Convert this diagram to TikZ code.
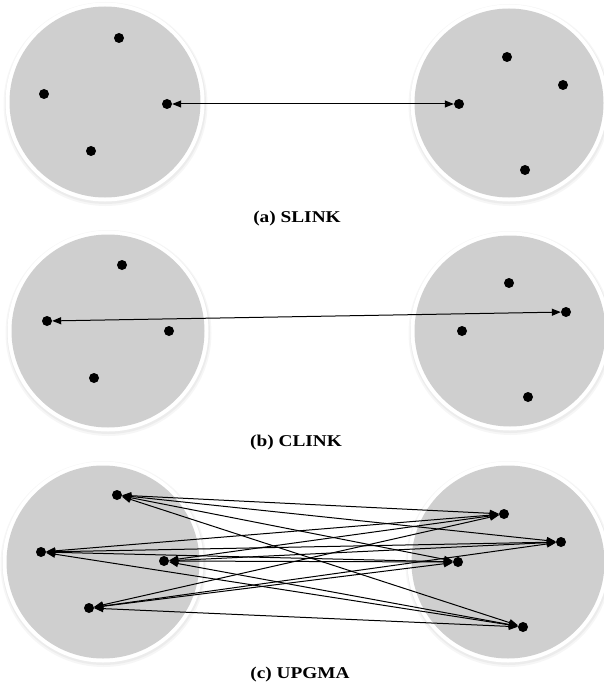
\documentclass[tikz,border=0pt]{standalone}
\usepackage{fontspec}
\setmainfont{Liberation Serif}
\usetikzlibrary{arrows.meta}
\definecolor{clgray}{RGB}{207,207,207}
\definecolor{shgray}{RGB}{170,170,170}
\begin{document}
\begin{tikzpicture}[x=1pt,y=-1pt,
  pt/.style={circle,fill=black,inner sep=0pt,minimum size=10pt},
  link/.style={line width=1pt,black,{Triangle[length=9pt,width=7pt]}-{Triangle[length=9pt,width=7pt]}},
  captext/.style={font=\bfseries\fontsize{16.5}{18}\selectfont,xscale=1.17,inner sep=0pt},
]
\useasboundingbox (0,0) rectangle (604,687);
\fill[white] (0,0) rectangle (604,687);
% cluster discs
\newcommand{\clusterdisc}[3]{%
  \fill[shgray,opacity=0.10] (#1+0.5,#2+2) ellipse [x radius=#3+5, y radius=#3+5];
  \fill[shgray,opacity=0.12] (#1+0.5,#2+1.5) ellipse [x radius=#3+3.5, y radius=#3+3.5];
  \fill[white] (#1,#2) circle [radius=#3+2.5];
  \fill[clgray] (#1,#2) circle [radius=#3-1.5];
}
\clusterdisc{105}{102}{97}
\clusterdisc{509}{103}{96}
\clusterdisc{108}{331}{98}
\clusterdisc{510}{331}{97}
\clusterdisc{103}{562}{98}
\clusterdisc{508}{562}{98}

% (a) SLINK
\node[pt] (a1) at (119,38) {};
\node[pt] (a2) at (44,94) {};
\node[pt] (a3) at (167,104) {};
\node[pt] (a4) at (91,151) {};
\node[pt] (a5) at (507,57) {};
\node[pt] (a6) at (563,85) {};
\node[pt] (a7) at (459,104) {};
\node[pt] (a8) at (525,170) {};
\draw[link] (a3) -- (a7);
\node[captext] (capa) at (297,219) {(a) SLINK};

% (b) CLINK
\node[pt] (b1) at (122,265) {};
\node[pt] (b2) at (47,321) {};
\node[pt] (b3) at (169,331) {};
\node[pt] (b4) at (94,378) {};
\node[pt] (b5) at (509,283) {};
\node[pt] (b6) at (566,312) {};
\node[pt] (b7) at (462,331) {};
\node[pt] (b8) at (528,397) {};
\draw[link] (b2) -- (b6);
\node[captext] (capb) at (296,443) {(b) CLINK};

% (c) UPGMA
\node[pt] (c1) at (117,495) {};
\node[pt] (c2) at (41,552) {};
\node[pt] (c3) at (164,561) {};
\node[pt] (c4) at (89,608) {};
\node[pt] (c5) at (504,514) {};
\node[pt] (c6) at (561,542) {};
\node[pt] (c7) at (458,562) {};
\node[pt] (c8) at (523,627) {};
\foreach \l in {c1,c2,c3,c4}{
  \foreach \r in {c5,c6,c7,c8}{
    \draw[link] (\l) -- (\r);
  }
}
\node[captext] (capc) at (300,675) {(c) UPGMA};
\end{tikzpicture}
\end{document}
